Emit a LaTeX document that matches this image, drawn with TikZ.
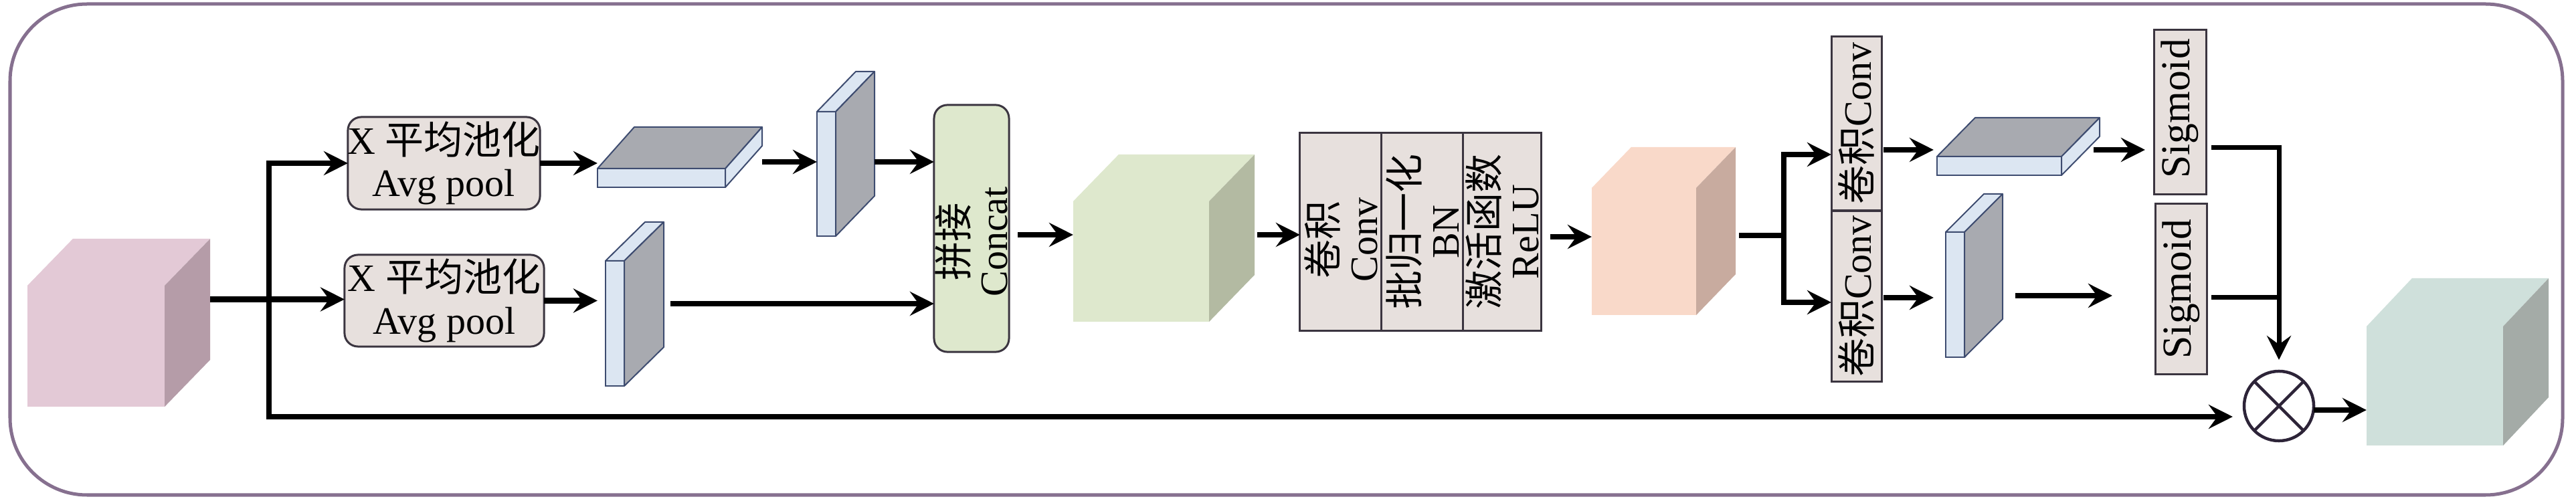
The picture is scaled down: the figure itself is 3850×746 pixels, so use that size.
\documentclass[tikz,border=0pt]{standalone}
\usepackage{fontspec}
\setmainfont{Liberation Serif}
\newfontfamily\cjk{Noto Sans CJK SC}
\usetikzlibrary{arrows.meta,calc}
\definecolor{frameC}{HTML}{86708F}
\definecolor{boxfill}{HTML}{E7E0DD}
\definecolor{boxline}{HTML}{3B3540}
\definecolor{catfill}{HTML}{DEE8CD}
\definecolor{sblue}{HTML}{DCE6F2}
\definecolor{sgray}{HTML}{A8AAB0}
\definecolor{slabline}{HTML}{3E4C70}
\definecolor{pinkF}{HTML}{E3C9D6}
\definecolor{pinkS}{HTML}{B59CA8}
\definecolor{greenF}{HTML}{DEE8CD}
\definecolor{greenS}{HTML}{B3BAA2}
\definecolor{peachF}{HTML}{F9D9C9}
\definecolor{peachS}{HTML}{C8AB9F}
\definecolor{tealF}{HTML}{CFE0DB}
\definecolor{tealS}{HTML}{A4ABA7}
\definecolor{oxline}{HTML}{2D2438}
\tikzset{
  box/.style={draw=boxline, fill=boxfill, line width=0.03cm, outer sep=0pt, inner sep=0pt},
  face/.style={outer sep=0pt, inner sep=0pt, draw=none},
  slab/.style={draw=slabline, line width=0.02cm, fill=sblue, outer sep=0pt, inner sep=0pt},
  slabedge/.style={draw=slabline, line width=0.02cm, line join=round},
  tipS/.style={-{Stealth[length=0.36cm, width=0.36cm, inset=0.13cm]}},
  arr/.style={line width=0.085cm, tipS},
  ln/.style={line width=0.085cm},
  thinarr/.style={line width=0.07cm, tipS},
  thinln/.style={line width=0.07cm},
  txt/.style={font=\fontsize{16.5}{17}\selectfont, inner sep=0pt, align=center},
  txtb/.style={font=\fontsize{16.5}{18}\selectfont, inner sep=0pt, align=center},
  sgtxt/.style={font=\fontsize{17.5}{18}\selectfont, inner sep=0pt},
}
\begin{document}
\begin{tikzpicture}[x=0.01cm,y=-0.01cm]
\useasboundingbox (0,0) rectangle (3850,746);
% frame
\draw[frameC, line width=0.05cm, rounded corners=1.15cm] (15,6) rectangle (3830,740);

% input cube (pink)
\node[face, fill=pinkF, minimum width=2.05cm, minimum height=1.81cm] (cubeA) at (143.5,517.5) {};
\fill[pinkF] (cubeA.north west) -- ++(68,-70) -- ++(205,0) -- (cubeA.north east) -- cycle;
\fill[pinkS] (cubeA.north east) -- ++(68,-70) -- ++(0,181) -- (cubeA.south east) -- cycle;

% avg pool boxes
\node[box, rounded corners=0.2cm, minimum width=2.87cm, minimum height=1.38cm] (ap1) at (663.5,244) {};
\node[txtb] (ap1t) at (ap1) {X {\cjk 平均池化}\\Avg pool};
\node[box, rounded corners=0.2cm, minimum width=2.98cm, minimum height=1.37cm] (ap2) at (664,449.5) {};
\node[txtb] (ap2t) at (ap2) {X {\cjk 平均池化}\\Avg pool};

% flat slab 1
\node[slab, minimum width=1.91cm, minimum height=0.28cm] (slabF1) at (988.5,266) {};
\filldraw[slabedge, fill=sgray] (slabF1.north west) -- ++(55,-62) -- ++(191,0) -- (slabF1.north east) -- cycle;
\filldraw[slabedge, fill=sblue] (slabF1.north east) -- ++(55,-62) -- ++(0,28) -- (slabF1.south east) -- cycle;

% vertical slab 1 (top)
\node[slab, minimum width=0.28cm, minimum height=1.86cm] (slabV1) at (1235,260) {};
\filldraw[slabedge, fill=sblue] (slabV1.north west) -- ++(58,-60) -- ++(28,0) -- (slabV1.north east) -- cycle;
\filldraw[slabedge, fill=sgray] (slabV1.north east) -- ++(58,-60) -- ++(0,186) -- (slabV1.south east) -- cycle;

% vertical slab 2 (bottom left)
\node[slab, minimum width=0.28cm, minimum height=1.87cm] (slabV2) at (919,483.5) {};
\filldraw[slabedge, fill=sblue] (slabV2.north west) -- ++(59,-58) -- ++(28,0) -- (slabV2.north east) -- cycle;
\filldraw[slabedge, fill=sgray] (slabV2.north east) -- ++(59,-58) -- ++(0,187) -- (slabV2.south east) -- cycle;

% concat
\node[box, fill=catfill, rounded corners=0.2cm, minimum width=1.12cm, minimum height=3.69cm] (concat) at (1452,341.5) {};
\node[txt, rotate=90] (concatt) at ($(concat.center)+(0,20)$) {{\cjk 拼接}\\Concat};

% green cube
\node[face, fill=greenF, minimum width=2.03cm, minimum height=1.80cm] (cubeB) at (1705.5,391) {};
\fill[greenF] (cubeB.north west) -- ++(68,-70) -- ++(203,0) -- (cubeB.north east) -- cycle;
\fill[greenS] (cubeB.north east) -- ++(68,-70) -- ++(0,180) -- (cubeB.south east) -- cycle;

% conv-bn-relu
\node[box, minimum width=1.22cm, minimum height=2.95cm] (cv1) at (2004,346.5) {};
\node[box, minimum width=1.22cm, minimum height=2.95cm] (cv2) at (2126,346.5) {};
\node[box, minimum width=1.16cm, minimum height=2.95cm] (cv3) at (2245,346.5) {};
\node[txt, rotate=90] (cv1t) at ($(cv1.center)+(0,12)$) {{\cjk 卷积}\\Conv};
\node[txt, rotate=90] (cv2t) at (cv2) {{\cjk 批归一化}\\BN};
\node[txt, rotate=90] (cv3t) at (cv3) {{\cjk 激活函数}\\ReLU};

% peach cube
\node[face, fill=peachF, minimum width=1.56cm, minimum height=1.90cm] (cubeC) at (2457,376) {};
\fill[peachF] (cubeC.north west) -- ++(59,-61) -- ++(156,0) -- (cubeC.north east) -- cycle;
\fill[peachS] (cubeC.north east) -- ++(59,-61) -- ++(0,190) -- (cubeC.south east) -- cycle;

% small conv boxes
\node[box, minimum width=0.75cm, minimum height=2.59cm] (sc1) at (2774.5,184.5) {};
\node[txt, rotate=90] (sc1t) at (sc1) {{\cjk 卷积}Conv};
\node[box, minimum width=0.75cm, minimum height=2.54cm] (sc2) at (2774.5,443) {};
\node[txt, rotate=90] (sc2t) at (sc2) {{\cjk 卷积}Conv};

% flat slab 2
\node[slab, minimum width=1.86cm, minimum height=0.28cm] (slabF2) at (2988,248) {};
\filldraw[slabedge, fill=sgray] (slabF2.north west) -- ++(57,-58) -- ++(186,0) -- (slabF2.north east) -- cycle;
\filldraw[slabedge, fill=sblue] (slabF2.north east) -- ++(57,-58) -- ++(0,28) -- (slabF2.south east) -- cycle;

% vertical slab 3
\node[slab, minimum width=0.28cm, minimum height=1.87cm] (slabV3) at (2922,440.5) {};
\filldraw[slabedge, fill=sblue] (slabV3.north west) -- ++(57,-57) -- ++(28,0) -- (slabV3.north east) -- cycle;
\filldraw[slabedge, fill=sgray] (slabV3.north east) -- ++(57,-57) -- ++(0,187) -- (slabV3.south east) -- cycle;

% sigmoid boxes
\node[box, minimum width=0.78cm, minimum height=2.45cm] (sg1) at (3258,167.5) {};
\node[sgtxt, rotate=90] (sg1t) at ($(sg1.center)+(0,-5)$) {Sigmoid};
\node[box, minimum width=0.77cm, minimum height=2.54cm] (sg2) at (3259.5,432) {};
\node[sgtxt, rotate=90] (sg2t) at (sg2) {Sigmoid};

% multiply
\node[circle, draw=oxline, line width=0.045cm, minimum size=1.04cm, inner sep=0pt, outer sep=0pt] (ox) at (3406,607) {};
\draw[oxline, line width=0.045cm] (ox.north east) -- (ox.south west) (ox.north west) -- (ox.south east);

% output cube
\node[face, fill=tealF, minimum width=2.04cm, minimum height=1.78cm] (cubeD) at (3639,577) {};
\fill[tealF] (cubeD.north west) -- ++(68,-72) -- ++(204,0) -- (cubeD.north east) -- cycle;
\fill[tealS] (cubeD.north east) -- ++(68,-72) -- ++(0,178) -- (cubeD.south east) -- cycle;

% ---------- connectors ----------
\coordinate (aOut) at ($(cubeA.east)+(68,-70)$);
\coordinate (j1) at (402,447.5);
\coordinate (jb) at (402,623);
\draw[arr] (aOut) -- (aOut -| ap2.west);
\draw[arr] (j1) |- (ap1.west);
\draw[arr, shorten >=0.17cm] (j1) -- (jb) -- (jb -| ox.west);

\draw[arr] (ap1.east) -- (ap1.east -| slabF1.west);
\draw[arr, shorten >=0.12cm] (ap2.east) -- (ap2.east -| slabV2.west);

\coordinate (f1r) at ($(slabF1.east)+(55,-24)$);
\draw[arr] (f1r) -- (f1r -| slabV1.west);
\coordinate (v1r) at ($(slabV1.east)+(58,-18)$);
\draw[arr] (v1r) -- (v1r -| concat.west);
\coordinate (v2r) at ($(slabV2.east)+(69,-29.5)$);
\draw[arr] (v2r) -- (v2r -| concat.west);

\coordinate (catr) at ($(concat.east)+(13,9.5)$);
\draw[arr] (catr) -- (catr -| cubeB.west);
\coordinate (bOut) at ($(cubeB.east)+(72,-40)$);
\draw[arr] (bOut) -- (bOut -| cv1.west);
\coordinate (cvr) at ($(cv3.east)+(14,7.5)$);
\draw[arr] (cvr) -- (cvr -| cubeC.west);

\coordinate (cOut) at ($(cubeC.east)+(64,-24)$);
\coordinate (j2) at (2666,352);
\draw[ln] (cOut) -- (j2);
\draw[arr] (j2) |- ($(sc1.west)+(0,46.5)$);
\draw[arr] (j2) |- ($(sc2.west)+(0,9)$);

\coordinate (sc1r) at ($(sc1.east)+(3,39.5)$);
\draw[arr, shorten >=0.05cm] (sc1r) -- (sc1r -| slabF2.west);
\coordinate (sc2r) at ($(sc2.east)+(3,2)$);
\draw[arr, shorten >=0.18cm] (sc2r) -- (sc2r -| slabV3.west);

\coordinate (f2r) at ($(slabF2.east)+(48,-24)$);
\draw[arr, shorten >=0.13cm] (f2r) -- (f2r -| sg1.west);
\coordinate (v3r) at ($(slabV3.east)+(76,1.5)$);
\coordinate (v3end) at (3157,442);
\draw[arr] (v3r) -- (v3end);

\coordinate (s1r) at ($(sg1.east)+(8,53.5)$);
\coordinate (s2r) at ($(sg2.east)+(7,13)$);
\draw[thinarr] (s1r) -| ($(ox.north)+(0,-17)$);
\draw[thinln] (s2r) -- (s2r -| ox.north);

\coordinate (oxr) at ($(ox.east)+(0,6)$);
\draw[arr] (oxr) -- (oxr -| cubeD.west);
\end{tikzpicture}
\end{document}
